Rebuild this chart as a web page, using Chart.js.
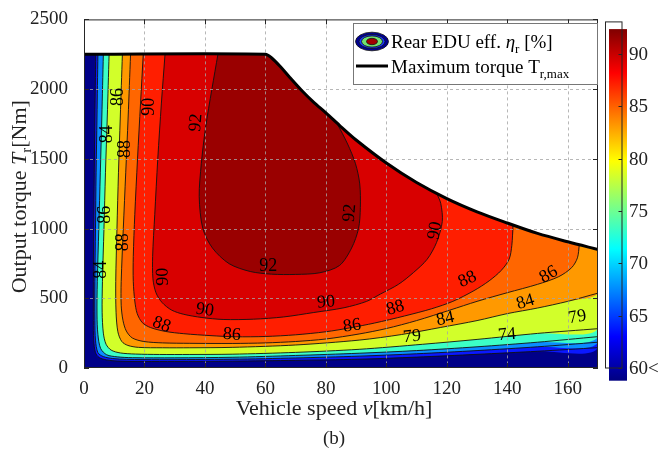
<!DOCTYPE html>
<html><head><meta charset="utf-8">
<script src="https://cdn.jsdelivr.net/npm/chart.js@4.4.1/dist/chart.umd.min.js"></script>
<style>html,body{margin:0;padding:0;background:#fff;}#wrap{position:relative;width:662px;height:461px;}</style>
</head><body><div id="wrap"><canvas id="c" width="662" height="461"></canvas></div>
<script>
// ---------- data ----------
const speedTicks = [0, 20, 40, 60, 80, 100, 120, 140, 160];
const torqueTicks = [0, 500, 1000, 1500, 2000, 2500];
const colorbarTicks = [60, 65, 70, 75, 80, 85, 90];
const colorbarLabels = ['60<', '65', '70', '75', '80', '85', '90'];

const maxTorqueSpeed = [0, 60, 62, 65, 68, 72, 76, 80, 85, 90, 100, 110, 120, 130, 140, 150, 160, 170];
const maxTorqueValue = [2250, 2250, 2225, 2160, 2085, 1990, 1905, 1830, 1730, 1635, 1470, 1330, 1215, 1120, 1040, 965, 905, 850];

const levels = [65, 70, 74, 79, 84, 86, 88, 90, 92];

const c65Speed = [3.9, 3.6, 3.4, 3.2, 3.1, 3.1, 3.2, 3.8, 5.0, 7.5, 11, 20, 30, 49, 70, 91, 110, 130, 150, 170];
const c65Torque = [2250, 1800, 1400, 1000, 620, 340, 200, 110, 75, 58, 50, 47, 47, 49, 55, 63, 78, 98, 120, 146];
const c70Speed = [4.6, 4.3, 4.0, 3.8, 3.6, 3.6, 3.8, 4.6, 6.4, 9.5, 14, 25, 49, 70, 91, 110, 130, 150, 170];
const c70Torque = [2250, 1800, 1400, 1000, 620, 340, 200, 110, 82, 68, 62, 60, 63, 72, 85, 102, 125, 152, 185];
const c74Speed = [6.4, 5.9, 5.4, 4.9, 4.4, 4.3, 4.6, 5.5, 7.5, 11, 16, 30, 49, 70, 91, 110, 130, 150, 170];
const c74Torque = [2250, 1800, 1400, 1000, 620, 380, 240, 140, 95, 80, 74, 73, 77, 90, 106, 125, 152, 185, 225];
const c79Speed = [8.3, 7.7, 7.1, 6.6, 6.1, 6.0, 6.4, 7.3, 9, 12, 17, 25, 35, 49, 70, 91, 112, 130, 150, 170];
const c79Torque = [2250, 1800, 1400, 1000, 620, 400, 250, 170, 128, 108, 100, 97, 97, 99, 112, 134, 170, 205, 248, 282];
const c84Speed = [12.7, 12.0, 11.4, 10.9, 10.5, 10.6, 11.2, 12.5, 14.5, 18, 26, 35, 49, 70, 91, 105, 118, 130, 140, 150, 160, 170];
const c84Torque = [2250, 1800, 1400, 1000, 620, 400, 260, 190, 162, 148, 145, 145, 148, 165, 200, 240, 291, 340, 390, 430, 478, 537];
const c86Speed = [15.4, 14.6, 13.8, 13.0, 12.3, 12.3, 12.9, 14, 16, 19.8, 26, 35, 49, 60, 70, 80, 91, 100, 110, 121, 130, 140, 150, 157, 161.3, 163.2, 163.8];
const c86Torque = [2250, 1800, 1400, 1000, 620, 450, 340, 265, 215, 190, 180, 177, 176, 180, 190, 208, 244, 283, 340, 415, 478, 540, 600, 655, 720, 790, 884];
const c88Speed = [19.6, 18.7, 17.7, 16.8, 16.3, 16.3, 16.8, 17.6, 19.3, 22, 27, 33, 42, 50, 60, 70, 80, 88, 96, 106, 115, 122, 129, 134, 138, 140.6, 141.5, 141.9];
const c88Torque = [2250, 1900, 1500, 1100, 800, 620, 480, 390, 325, 290, 262, 246, 232, 224, 226, 238, 260, 288, 322, 373, 425, 478, 555, 625, 700, 780, 880, 1026];
const c90Speed = [26.8, 25.6, 24.4, 23.4, 22.7, 22.8, 23.8, 25.8, 29, 33, 39, 46, 56, 66, 76, 86, 93.5, 98, 104, 109, 113.5, 116.6, 118.5, 118, 116.6];
const c90Torque = [2250, 1900, 1500, 1100, 800, 640, 540, 470, 415, 385, 362, 348, 350, 366, 398, 432, 478, 530, 600, 685, 780, 900, 1050, 1180, 1254];
const c92Speed = [44.3, 42.3, 40.2, 38.8, 38.1, 39.3, 42.5, 48, 55, 62, 70, 78, 84.5, 88.5, 90.8, 91.4, 91.2, 89.8, 87.2, 83.6];
const c92Torque = [2250, 2000, 1723, 1465, 1230, 1000, 860, 748, 692, 673, 671, 683, 735, 860, 1000, 1150, 1320, 1465, 1606, 1758];

const labelText = ['84', '86', '88', '90', '92', '86', '88', '84', '90', '92', '92', '90', '88', '90', '86', '90', '86', '88', '84', '79', '74', '88', '84', '86', '79'];
const labelSpeed = [7.3, 10.9, 13.2, 21.2, 36.7, 6.6, 12.6, 5.3, 25.8, 87.6, 60.9, 115.8, 25.8, 40.0, 48.9, 80.0, 88.6, 102.9, 119.4, 108.5, 139.9, 126.7, 145.9, 153.5, 163.1];
const labelTorque = [1676, 1944, 1570, 1873, 1761, 1099, 901, 704, 655, 1113, 739, 986, 317, 423, 246, 479, 310, 437, 359, 232, 246, 641, 479, 676, 373];
const labelAngle = [-90, -90, -90, -90, -85, -90, -90, -90, -92, -85, 0, -80, 20, 8, 4, -5, -8, -15, -12, -5, -5, -25, -17, -30, -10];

// ---------- styles ----------
const baseColor = '#000088';
const levelColors = ['#0a18ff', '#0a8cff', '#3cffc6', '#d2ff2a', '#ff9900', '#ff6600', '#ff1e00', '#d80000', '#9a0000'];
const SERIF = "'Liberation Serif', 'DejaVu Serif', serif";

const curves = [[c65Speed, c65Torque], [c70Speed, c70Torque], [c74Speed, c74Torque], [c79Speed, c79Torque],
  [c84Speed, c84Torque], [c86Speed, c86Torque], [c88Speed, c88Torque], [c90Speed, c90Torque], [c92Speed, c92Torque]];

const X_MIN = 0, X_MAX = 170, Y_MIN = 0, Y_MAX = 2500;

function regionPoints(xs, ys) {
  const pts = xs.map((x, i) => ({x, y: ys[i]}));
  const x0 = xs[0], x1 = xs[xs.length - 1], y1 = ys[ys.length - 1];
  for (let i = maxTorqueSpeed.length - 1; i >= 0; i--) {
    const sx = maxTorqueSpeed[i], sy = maxTorqueValue[i];
    if (sx <= x0) continue;
    if (sx < x1 - 0.05 || (Math.abs(sx - x1) < 0.05 && sy > y1 + 1)) pts.push({x: sx, y: sy});
  }
  return pts;
}
function basePoints() {
  const pts = [{x: X_MIN, y: maxTorqueValue[0]}, {x: X_MIN, y: Y_MIN}, {x: X_MAX, y: Y_MIN}];
  for (let i = maxTorqueSpeed.length - 1; i >= 1; i--) pts.push({x: maxTorqueSpeed[i], y: maxTorqueValue[i]});
  return pts;
}

const TENSION = 0.3;
const maxPts = maxTorqueSpeed.map((x, i) => ({x, y: maxTorqueValue[i]}));
const datasets = [];
datasets.push({label: 'maxTorque', data: maxPts,
  borderColor: '#000', borderWidth: 3, fill: false, pointRadius: 0, tension: TENSION, order: 0});
// white area above the torque limit (outside the operating region)
datasets.push({label: 'outside', data: maxPts, borderWidth: 0, borderColor: '#fff',
  backgroundColor: '#fff', fill: 'end', pointRadius: 0, tension: TENSION, order: 0.5});
levels.forEach((L, k) => {
  datasets.push({label: 'eta' + L, data: regionPoints(curves[k][0], curves[k][1]),
    backgroundColor: levelColors[k], borderColor: levelColors[k], borderWidth: 0, fill: 'shape',
    pointRadius: 0, tension: TENSION, order: 20 - k});
  datasets.push({label: 'line' + L, data: curves[k][0].map((x, i) => ({x, y: curves[k][1][i]})),
    borderColor: '#111', borderWidth: 0.9, fill: false, pointRadius: 0, tension: TENSION, order: 1});
});
datasets.push({label: 'base', data: basePoints(), backgroundColor: baseColor, borderWidth: 0,
  borderColor: baseColor, fill: 'shape', pointRadius: 0, tension: 0, order: 30});

function jet(t) {
  const c = (v) => Math.max(0, Math.min(1, v));
  const r = c(Math.min(4 * t - 1.5, -4 * t + 4.5));
  const g = c(Math.min(4 * t - 0.5, -4 * t + 3.5));
  const b = c(Math.min(4 * t + 0.5, -4 * t + 2.5));
  return `rgb(${Math.round(r * 255)},${Math.round(g * 255)},${Math.round(b * 255)})`;
}

function drawRich(ctx, parts, x, y, align) {
  let w = 0;
  for (const p of parts) { ctx.font = p.f; w += ctx.measureText(p.t).width; }
  let cx = align === 'center' ? x - w / 2 : x;
  ctx.textAlign = 'left'; ctx.textBaseline = 'alphabetic';
  for (const p of parts) { ctx.font = p.f; ctx.fillText(p.t, cx, y + (p.dy || 0)); cx += ctx.measureText(p.t).width; }
}

const overlay = {
  id: 'overlay',
  beforeDatasetDraw(chart, args) {
    if (args.index !== 0) return;
    const {ctx, chartArea: a, scales: {x, y}} = chart;
    ctx.save();
    ctx.beginPath(); ctx.rect(a.left, a.top, a.right - a.left, a.bottom - a.top); ctx.clip();
    ctx.setLineDash([3, 3]); ctx.strokeStyle = 'rgba(165,165,165,0.8)'; ctx.lineWidth = 1;
    for (const v of speedTicks) { if (v <= X_MIN) continue; const p = Math.round(x.getPixelForValue(v)) + 0.5;
      ctx.beginPath(); ctx.moveTo(p, a.top); ctx.lineTo(p, a.bottom); ctx.stroke(); }
    for (const v of torqueTicks) { if (v <= Y_MIN || v >= Y_MAX) continue; const p = Math.round(y.getPixelForValue(v)) + 0.5;
      ctx.beginPath(); ctx.moveTo(a.left, p); ctx.lineTo(a.right, p); ctx.stroke(); }
    ctx.restore();
  },
  afterDatasetsDraw(chart) {
    const {ctx, chartArea: a, scales: {x, y}} = chart;
    ctx.save();
    ctx.fillStyle = '#000'; ctx.font = '18px ' + SERIF; ctx.textAlign = 'center'; ctx.textBaseline = 'middle';
    labelText.forEach((t, i) => {
      ctx.save();
      ctx.translate(x.getPixelForValue(labelSpeed[i]), y.getPixelForValue(labelTorque[i]));
      ctx.rotate(labelAngle[i] * Math.PI / 180);
      ctx.fillText(t, 0, 1);
      ctx.restore();
    });
    ctx.strokeStyle = '#262626'; ctx.lineWidth = 1; ctx.setLineDash([]);
    ctx.strokeRect(a.left + 0.5, a.top + 0.5, a.right - a.left - 1, a.bottom - a.top - 1);
    ctx.beginPath();
    for (const v of speedTicks) { const p = Math.round(x.getPixelForValue(v)) + 0.5;
      ctx.moveTo(p, a.bottom); ctx.lineTo(p, a.bottom - 5); ctx.moveTo(p, a.top); ctx.lineTo(p, a.top + 5); }
    for (const v of torqueTicks) { const p = Math.round(y.getPixelForValue(v)) + 0.5;
      ctx.moveTo(a.left, p); ctx.lineTo(a.left + 5, p); ctx.moveTo(a.right, p); ctx.lineTo(a.right - 5, p); }
    ctx.stroke();
    const L = {x: 353.5, y: 23.5, w: 244, h: 61};
    ctx.fillStyle = '#fff'; ctx.fillRect(L.x, L.y, L.w, L.h);
    ctx.strokeStyle = '#777'; ctx.strokeRect(L.x, L.y, L.w, L.h);
    const ex = 372, ey = 41.5;
    const ell = (rx, ry, col) => { ctx.beginPath(); ctx.ellipse(ex, ey, rx, ry, 0, 0, 2 * Math.PI); ctx.fillStyle = col; ctx.fill(); ctx.strokeStyle = '#111'; ctx.lineWidth = 0.8; ctx.stroke(); };
    ell(16.5, 9.3, '#000090'); ell(13, 7, '#1838ff'); ell(10.5, 5.6, '#70e070'); ell(5.5, 3.2, '#a00000');
    ctx.fillStyle = '#000';
    drawRich(ctx, [{t: 'Rear EDU eff. ', f: '19px ' + SERIF}, {t: 'η', f: 'italic 19px ' + SERIF},
      {t: 'r', f: '13px ' + SERIF, dy: 5}, {t: ' [%]', f: '19px ' + SERIF}], 391, 47.5, 'left');
    ctx.fillRect(356, 64.5, 32, 3);
    drawRich(ctx, [{t: 'Maximum torque T', f: '19px ' + SERIF}, {t: 'r,max', f: '13px ' + SERIF, dy: 5}], 391, 73, 'left');
    ctx.restore();
  },
  afterDraw(chart) {
    const {ctx, chartArea: a} = chart;
    ctx.save();
    const gx = 609, gy0 = a.top + 9.7, gy1 = a.bottom + 12.7, gw = 18;
    const grad = ctx.createLinearGradient(0, gy1, 0, gy0);
    for (let i = 0; i <= 16; i++) grad.addColorStop(i / 16, jet(i / 16));
    ctx.fillStyle = grad; ctx.fillRect(gx, gy0, gw, gy1 - gy0);
    const bx = 605.5, bTop = a.top + 2, bBot = a.bottom, bw = 16.5;
    ctx.strokeStyle = '#262626'; ctx.lineWidth = 1;
    ctx.strokeRect(bx, bTop + 0.5, bw, bBot - bTop - 0.5);
    const vMin = colorbarTicks[0], vMax = 93.1;
    const cy = (v) => bBot - (v - vMin) / (vMax - vMin) * (bBot - bTop);
    ctx.beginPath();
    colorbarTicks.forEach(v => { const p = Math.round(cy(v)) + 0.5; ctx.moveTo(bx + bw, p); ctx.lineTo(bx + bw - 3.5, p); });
    ctx.stroke();
    ctx.fillStyle = '#222'; ctx.font = '19px ' + SERIF; ctx.textAlign = 'left'; ctx.textBaseline = 'middle';
    colorbarTicks.forEach((v, i) => ctx.fillText(colorbarLabels[i], 629, cy(v) + 1));
    ctx.fillStyle = '#222';
    const xc = (a.left + a.right) / 2 - 7;
    drawRich(ctx, [{t: 'Vehicle speed ', f: '22px ' + SERIF}, {t: 'v', f: 'italic 22px ' + SERIF}, {t: '[km/h]', f: '22px ' + SERIF}], xc, 415, 'center');
    ctx.save();
    ctx.translate(19, (a.top + a.bottom) / 2 + 3);
    ctx.rotate(-Math.PI / 2);
    drawRich(ctx, [{t: 'Output torque ', f: '22px ' + SERIF}, {t: 'T', f: 'italic 22px ' + SERIF}, {t: 'r', f: '15px ' + SERIF, dy: 5}, {t: '[Nm]', f: '22px ' + SERIF}], 0, 7, 'center');
    ctx.restore();
    ctx.font = '19px ' + SERIF; ctx.textAlign = 'center'; ctx.textBaseline = 'alphabetic';
    ctx.fillText('(b)', xc, 444);
    ctx.restore();
  }
};

new Chart(document.getElementById('c'), {
  type: 'line',
  data: {datasets},
  options: {
    responsive: false, animation: false, devicePixelRatio: 1,
    layout: {padding: {left: 0, right: 64, top: 13, bottom: 0}},
    plugins: {legend: {display: false}, tooltip: {enabled: false}},
    elements: {line: {capBezierPoints: true}},
    scales: {
      x: {type: 'linear', min: X_MIN, max: X_MAX,
        ticks: {stepSize: 20, includeBounds: false, color: '#222', font: {family: SERIF, size: 19}, padding: 2, maxRotation: 0,
          callback: (v) => String(v)},
        grid: {display: false}, border: {display: false},
        afterFit: (s) => { s.height = 93; }},
      y: {type: 'linear', min: Y_MIN, max: Y_MAX,
        ticks: {stepSize: 500, color: '#222', font: {family: SERIF, size: 19}, padding: 8, callback: (v) => String(v)},
        grid: {display: false}, border: {display: false},
        afterFit: (s) => { s.width = 84; }}
    }
  },
  plugins: [overlay]
});
</script></body></html>
